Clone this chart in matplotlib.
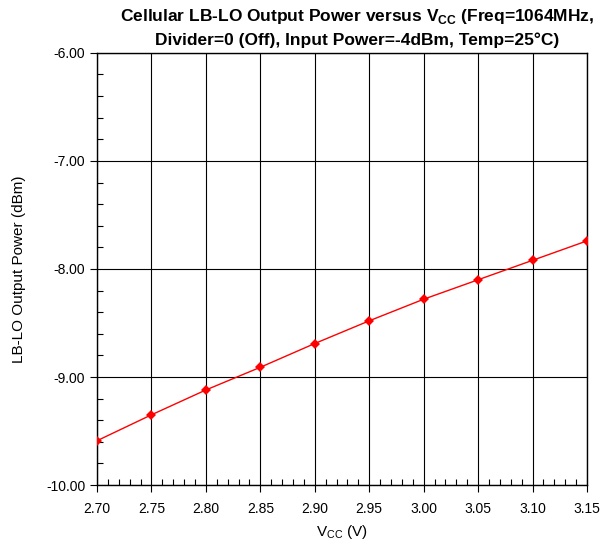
import matplotlib.pyplot as plt
from matplotlib.ticker import MultipleLocator, FormatStrFormatter

plt.rcParams['font.family'] = ['Liberation Sans', 'DejaVu Sans']

vcc = [2.70, 2.75, 2.80, 2.85, 2.90, 2.95, 3.00, 3.05, 3.10, 3.15]
pout = [-9.59, -9.35, -9.12, -8.91, -8.69, -8.48, -8.28, -8.10, -7.92, -7.74]

fig = plt.figure(figsize=(6.08, 5.45), dpi=100)
ax = fig.add_axes([0.1595, 0.110, 0.806, 0.793])

ax.plot(vcc, pout, color='red', linewidth=1.0, marker='D', markersize=5.5,
        markeredgewidth=0, zorder=3)

ax.set_xlim(2.70, 3.15)
ax.set_ylim(-10, -6)
ax.xaxis.set_major_locator(MultipleLocator(0.05))
ax.xaxis.set_minor_locator(MultipleLocator(0.01))
ax.yaxis.set_major_locator(MultipleLocator(1.0))
ax.yaxis.set_minor_locator(MultipleLocator(0.2))
ax.xaxis.set_major_formatter(FormatStrFormatter('%.2f'))
ax.yaxis.set_major_formatter(FormatStrFormatter('%.2f'))

ax.grid(True, which='major', color='black', linewidth=0.8)
ax.tick_params(which='major', direction='out', length=5, width=0.8,
               labelsize=10, colors='black')
ax.tick_params(axis='x', which='major', pad=7)
ax.tick_params(which='minor', direction='in', length=4, width=0.8)
for s in ax.spines.values():
    s.set_linewidth(1.0)

ax.set_xlabel('V$_{\\mathregular{CC}}$ (V)', fontsize=11, labelpad=5)
ax.set_ylabel('LB-LO Output Power (dBm)', fontsize=11, labelpad=14)
ax.set_title('Cellular LB-LO Output Power versus V$_{\\mathregular{CC}}$ (Freq=1064MHz,\n'
             'Divider=0 (Off), Input Power=-4dBm, Temp=25°C)',
             fontsize=12.5, fontweight='bold', linespacing=1.45, pad=6,
             x=0.53)

plt.savefig('out.png')
